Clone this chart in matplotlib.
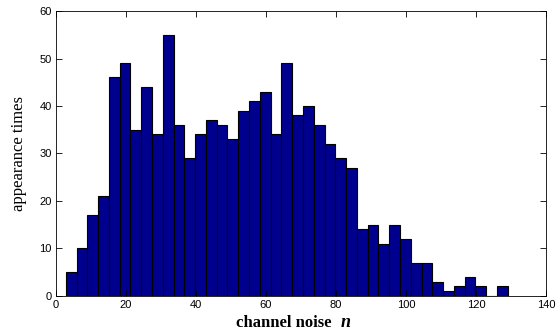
import numpy as np
from matplotlib import pyplot as plt

# histogram counts (41 bins)
counts = [5, 10, 17, 21, 46, 49, 35, 44, 34, 55, 36, 29, 34, 37, 36, 33,
          39, 41, 43, 34, 49, 38, 40, 36, 32, 29, 27, 14, 15, 11, 15, 12,
          7, 7, 3, 1, 2, 4, 2, 0, 2]
bin_start = 2.8
bin_width = 3.08
xticks = [0, 20, 40, 60, 80, 100, 120, 140]
yticks = [0, 10, 20, 30, 40, 50, 60]

left_edges = bin_start + bin_width * np.arange(len(counts))

fig = plt.figure(figsize=(5.56, 3.34), dpi=100)
ax = fig.add_axes([0.1007, 0.114, 0.8813, 0.853])

ax.bar(left_edges, counts, width=bin_width, align='edge',
       color='#00008f', edgecolor='black', linewidth=0.8)

ax.set_xlim(0, 140)
ax.set_ylim(0, 60)
ax.set_xticks(xticks)
ax.set_yticks(yticks)
ax.tick_params(direction='in', top=True, right=True, length=4, width=0.6,
               labelsize=8, pad=3)
for lab in ax.get_xticklabels() + ax.get_yticklabels():
    lab.set_family('Liberation Sans')
for sp in ax.spines.values():
    sp.set_linewidth(0.6)

ax.set_ylabel('appearance times', family='Liberation Serif', fontsize=12, labelpad=9)
fig.text(0.425, 0.01, 'channel noise', family='Liberation Serif', fontsize=12,
         fontweight='bold', ha='left', va='bottom')
fig.text(0.612, 0.01, 'n', family='Liberation Serif', fontsize=13,
         fontweight='bold', style='italic', ha='left', va='bottom')

fig.savefig('out.png', dpi=100)
